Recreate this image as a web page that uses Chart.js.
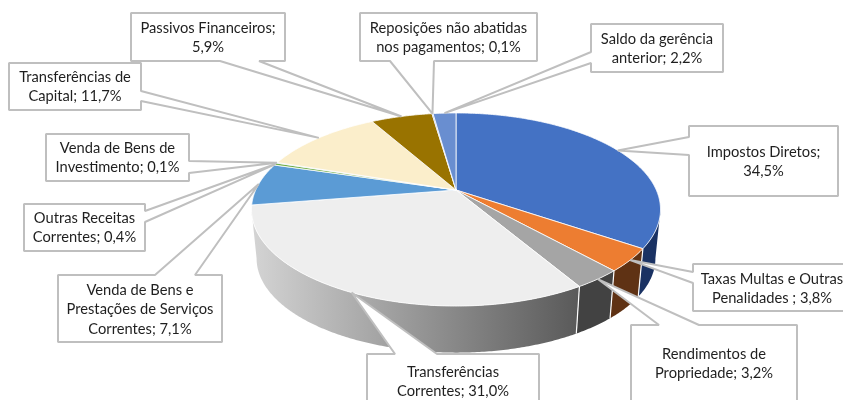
<!DOCTYPE html>
<html><head><meta charset="utf-8">
<style>html,body{margin:0;padding:0;background:#fff;overflow:hidden}canvas{display:block}</style>
<script src="https://cdn.jsdelivr.net/npm/chart.js@4"></script>
</head><body><canvas id="c" width="843" height="400"></canvas>
<script>
const categories = ["Impostos Diretos","Taxas Multas e Outras Penalidades","Rendimentos de Propriedade","Transferências Correntes","Venda de Bens e Prestações de Serviços Correntes","Outras Receitas Correntes","Venda de Bens de Investimento","Transferências de Capital","Passivos Financeiros","Reposições não abatidas nos pagamentos","Saldo da gerência anterior"];
const values = [34.5,3.8,3.2,31.0,7.1,0.4,0.1,11.7,5.9,0.1,2.2];
const sliceColors = ["#4472c4","#ed7d31","#a5a5a5","#eeeeee","#5b9bd5","#70ad47","#264478","#fbeecb","#997300","#5f7fc0","#698ed0"];
const wallStart = ["#1a3263","#5f3214","#424242","#d4d4d4"];
const wallEnd   = ["#1a3263","#5f3214","#424242","#5a5a5a"];
const labelLines = [
 ["Impostos Diretos;","34,5%"],
 ["Taxas Multas e Outras","Penalidades ; 3,8%"],
 ["Rendimentos de","Propriedade; 3,2%"],
 ["Transferências","Correntes; 31,0%"],
 ["Venda de Bens e","Prestações de Serviços","Correntes; 7,1%"],
 ["Outras Receitas","Correntes; 0,4%"],
 ["Venda de Bens de","Investimento; 0,1%"],
 ["Transferências de","Capital; 11,7%"],
 ["Passivos Financeiros;","5,9%"],
 ["Reposições não abatidas","nos pagamentos; 0,1%"],
 ["Saldo da gerência","anterior; 2,2%"]
];
// callout boxes: left, top, right, bottom, side of pointer, pointer base start, end
const boxes = [
 [689,126,838,196,"L",137,155],
 [693,264,851,311,"L",272,283],
 [631,325,797,410,"T",659,699],
 [367,354,539,410,"T",395,437],
 [58,275,222,342,"T",155,195],
 [24,204,145,251,"R",211,222],
 [46,134,189,181,"R",161,173],
 [9,63,141,110,"R",91,101],
 [131,13,285,61,"B",220,259],
 [360,13,537,61,"B",390,434],
 [591,24,723,72,"L",52,63]
];
const firstLineY = [152,279,354,372,290,218,148,77,28,28,39];
const view = {k:0.202, tilt:0.4623, drop:49.5, shrink:0.975, wallFrom:0.2035, wallTo:Math.PI-0.2035};
const FONT = '14.7px Lato, Carlito, sans-serif';

function project(el, a, wall){
  const dx=Math.cos(a), dy=Math.sin(a), w=1-view.k*dy, R=el.outerRadius;
  const s=wall?view.shrink:1;
  return [el.x+s*R*dx/w, el.y+(wall?view.drop:0)+s*R*view.tilt*dy/w];
}
function arcPts(el,a0,a1,wall){
  const n=Math.max(2,Math.ceil(Math.abs(a1-a0)/0.01)), p=[];
  for(let i=0;i<=n;i++) p.push(project(el,a0+(a1-a0)*i/n,wall));
  return p;
}
Chart.ArcElement.prototype.draw=function(ctx){
  const pts=arcPts(this,this.startAngle,this.endAngle,false);
  ctx.save();
  ctx.beginPath(); ctx.moveTo(this.x,this.y);
  pts.forEach(p=>ctx.lineTo(p[0],p[1])); ctx.closePath();
  ctx.fillStyle=this.options.backgroundColor; ctx.fill();
  ctx.strokeStyle=this.options.borderColor; ctx.lineWidth=this.options.borderWidth; ctx.lineJoin='round';
  ctx.stroke();
  ctx.restore();
};
const walls={id:'walls',beforeDatasetsDraw(chart){
  const ctx=chart.ctx, arcs=chart.getDatasetMeta(0).data;
  arcs.forEach((el,i)=>{
    const a0=Math.max(el.startAngle,view.wallFrom), a1=Math.min(el.endAngle,view.wallTo);
    if(a1<=a0||!wallStart[i]) return;
    const top=arcPts(el,a0,a1,false), bot=arcPts(el,a1,a0,true);
    const g=ctx.createLinearGradient(252,0,577,0);
    g.addColorStop(0,wallStart[i]);
    g.addColorStop(1,wallEnd[i]);
    ctx.beginPath(); top.concat(bot).forEach((p,j)=>j?ctx.lineTo(p[0],p[1]):ctx.moveTo(p[0],p[1])); ctx.closePath();
    ctx.fillStyle=g; ctx.fill();
    ctx.strokeStyle='#fff'; ctx.lineWidth=1.2;
    if(el.startAngle>view.wallFrom){ctx.beginPath();ctx.moveTo(...top[0]);ctx.lineTo(...bot[bot.length-1]);ctx.stroke();}
  });
}};
const callouts={id:'callouts',afterDatasetsDraw(chart){
  const ctx=chart.ctx, arcs=chart.getDatasetMeta(0).data;
  ctx.save();
  arcs.forEach((el,i)=>{
    const [l,t,r,b,side,p0,p1]=boxes[i];
    const tip=project(el,(el.startAngle+el.endAngle)/2,false);
    ctx.beginPath(); ctx.moveTo(l,t);
    if(side==='T'){ctx.lineTo(p0,t);ctx.lineTo(...tip);ctx.lineTo(p1,t);}
    ctx.lineTo(r,t);
    if(side==='R'){ctx.lineTo(r,p0);ctx.lineTo(...tip);ctx.lineTo(r,p1);}
    ctx.lineTo(r,b);
    if(side==='B'){ctx.lineTo(p1,b);ctx.lineTo(...tip);ctx.lineTo(p0,b);}
    ctx.lineTo(l,b);
    if(side==='L'){ctx.lineTo(l,p1);ctx.lineTo(...tip);ctx.lineTo(l,p0);}
    ctx.closePath();
    ctx.fillStyle='#fff'; ctx.fill();
    ctx.strokeStyle='#bfbfbf'; ctx.lineWidth=2; ctx.lineJoin='bevel'; ctx.stroke();
  });
  ctx.fillStyle='#1f1f1f'; ctx.font=FONT; ctx.textAlign='center'; ctx.textBaseline='middle';
  arcs.forEach((el,i)=>{
    const [l,,r]=boxes[i];
    labelLines[i].forEach((s,j)=>ctx.fillText(s,(l+r)/2,firstLineY[i]+j*19.5));
  });
  ctx.restore();
}};
new Chart(document.getElementById('c'),{
  type:'pie',
  data:{labels:categories,datasets:[{data:values,backgroundColor:sliceColors,borderColor:'#ffffff',borderWidth:0.8}]},
  options:{responsive:false,animation:false,events:[],radius:200.3,
    layout:{padding:{left:69,bottom:20}},
    plugins:{legend:{display:false},tooltip:{enabled:false}}},
  plugins:[walls,callouts]
});
</script></body></html>
